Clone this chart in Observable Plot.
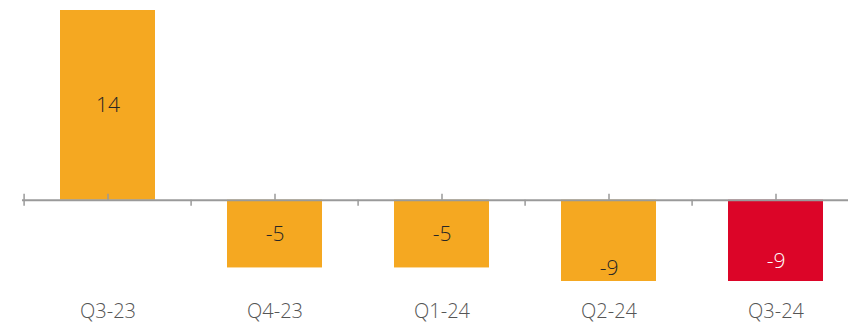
<!DOCTYPE html>
<html>
<head>
<meta charset="utf-8">
<script src="https://cdn.jsdelivr.net/npm/d3@7"></script>
<script src="https://cdn.jsdelivr.net/npm/@observablehq/plot@0.6"></script>
<style>
  html, body { margin: 0; padding: 0; background: #fff; }
  #chart svg { display: block; }
</style>
</head>
<body>
<div id="chart"></div>
<script>
const quarters = ["Q3-23", "Q4-23", "Q1-24", "Q2-24", "Q3-24"];
const values = [14, -5, -5, -9, -9];
const highlight = ["Q3-24"];

const data = quarters.map((q, i) => ({quarter: q, value: values[i], hi: highlight.includes(q)}));

const ORANGE = "#F5A821";
const RED = "#DC0528";
const AXIS = "#9a9a9a";
const FONT = "'Open Sans', 'Segoe UI', sans-serif";

const step = (861 - 22) / quarters.length;

const chart = Plot.plot({
  width: 848,
  height: 323,
  marginLeft: 22,
  marginRight: 0,
  marginTop: 10,
  marginBottom: 42,
  style: {fontFamily: FONT, background: "#fff"},
  x: {type: "band", domain: quarters, range: [22, 861], padding: 0, label: null},
  y: {domain: [-6, 14], axis: null},
  marks: [
    Plot.barY(data, {
      x: "quarter", y: "value",
      fill: d => d.hi ? RED : ORANGE,
      insetLeft: 36, insetRight: 36,
      clip: true
    }),
    Plot.ruleY([0], {stroke: AXIS, strokeWidth: 2}),
    // ticks at category centres, pointing up
    Plot.ruleX(quarters, {x: d => d, y1: 0, y2: 0, insetTop: -6, stroke: AXIS, strokeWidth: 1.5}),
    // ticks at category boundaries, pointing down
    Plot.ruleX(quarters, {x: d => d, y1: 0, y2: 0, insetBottom: -6, dx: -step / 2, stroke: AXIS, strokeWidth: 1.5}),
    Plot.ruleX(quarters.slice(0, 1), {x: d => d, y1: 0, y2: 0, insetTop: -6, dx: -step / 2, stroke: AXIS, strokeWidth: 1.5}),
    Plot.text(data.filter(d => d.quarter !== "Q2-24"), {
      x: "quarter", y: d => d.value / 2, text: d => String(d.value),
      fill: d => d.hi ? "#ffffff" : "#262626",
      fontSize: 21, fontWeight: 300
    }),
    Plot.text(data.filter(d => d.quarter === "Q2-24"), {
      x: "quarter", y: d => d.value / 2, text: d => String(d.value),
      fill: "#262626", dy: 7,
      fontSize: 21, fontWeight: 300
    }),
    Plot.axisX({
      tickSize: 0, tickPadding: 22, fontSize: 20, fontWeight: 300,
      color: "#555555", label: null
    })
  ]
});
document.getElementById("chart").appendChild(chart);
</script>
</body>
</html>
